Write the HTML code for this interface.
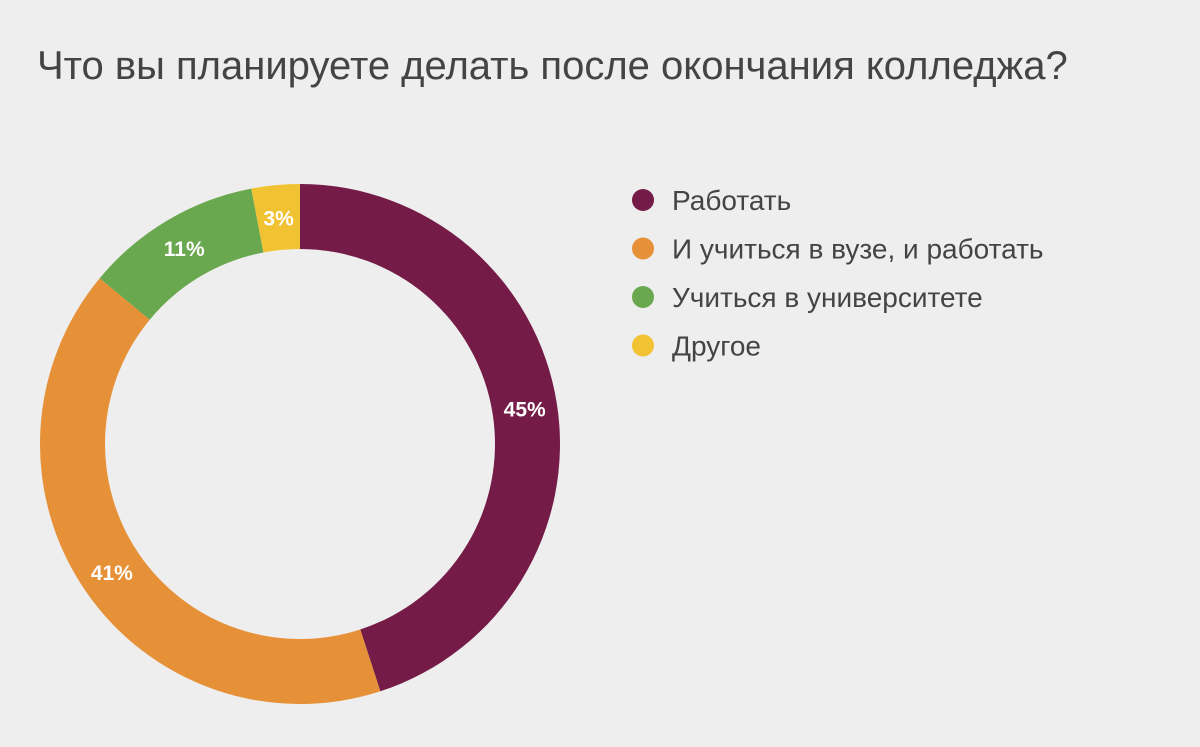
<!DOCTYPE html>
<html><head><meta charset="utf-8"><style>
html,body{margin:0;padding:0;background:#eeeeee;}
body{width:1200px;height:742px;overflow:hidden;font-family:"Liberation Sans",sans-serif;}
</style></head><body>
<svg width="1200" height="742" xmlns="http://www.w3.org/2000/svg">
<rect width="1200" height="742" fill="#eeeeee"/>
<text x="37" y="79" font-size="40" fill="#444444" font-family="Liberation Sans, sans-serif">Что вы планируете делать после окончания колледжа?</text>
<g id="slices"></g>
<g id="legend"></g>
</svg>
<script>
const categories=["Работать","И учиться в вузе, и работать","Учиться в университете","Другое"];
const values=[45,41,11,3];
const colors=["#741b47","#e69138","#6aa84f","#f1c232"];
const cx=300,cy=444,R=260,r=195;
const NS="http://www.w3.org/2000/svg";
const total=values.reduce((a,b)=>a+b,0);
const g=document.getElementById('slices');
function pt(rad,a){return [cx+rad*Math.sin(a),cy-rad*Math.cos(a)];}
let acc=0;
values.forEach((v,i)=>{
  const a0=acc/total*2*Math.PI; acc+=v; const a1=acc/total*2*Math.PI;
  const large=(a1-a0)>Math.PI?1:0;
  const [x0,y0]=pt(R,a0),[x1,y1]=pt(R,a1),[x2,y2]=pt(r,a1),[x3,y3]=pt(r,a0);
  const p=document.createElementNS(NS,'path');
  p.setAttribute('d',`M${x0},${y0}A${R},${R} 0 ${large} 1 ${x1},${y1}L${x2},${y2}A${r},${r} 0 ${large} 0 ${x3},${y3}Z`);
  p.setAttribute('fill',colors[i]);
  
  
  g.appendChild(p);
  const [lx,ly]=pt((R+r)/2,(a0+a1)/2);
  const t=document.createElementNS(NS,'text');
  t.setAttribute('x',lx);t.setAttribute('y',ly+8);
  t.setAttribute('text-anchor','middle');t.setAttribute('font-size','21');
  t.setAttribute('font-weight','bold');t.setAttribute('fill','#ffffff');
  t.setAttribute('font-family','Liberation Sans, sans-serif');
  t.textContent=Math.round(v/total*100)+'%';
  
  
  g.appendChild(t);
});
const lg=document.getElementById('legend');
categories.forEach((c,i)=>{
  const y=200+i*48.5;
  const ci=document.createElementNS(NS,'circle');
  ci.setAttribute('cx',643);ci.setAttribute('cy',y);ci.setAttribute('r',11);
  ci.setAttribute('fill',colors[i]);
  
  
  lg.appendChild(ci);
  const t=document.createElementNS(NS,'text');
  t.setAttribute('x',672);t.setAttribute('y',y+10);
  t.setAttribute('font-size','28');t.setAttribute('fill','#444444');
  t.setAttribute('font-family','Liberation Sans, sans-serif');
  t.textContent=c;
  
  
  lg.appendChild(t);
});
</script>
</body></html>
